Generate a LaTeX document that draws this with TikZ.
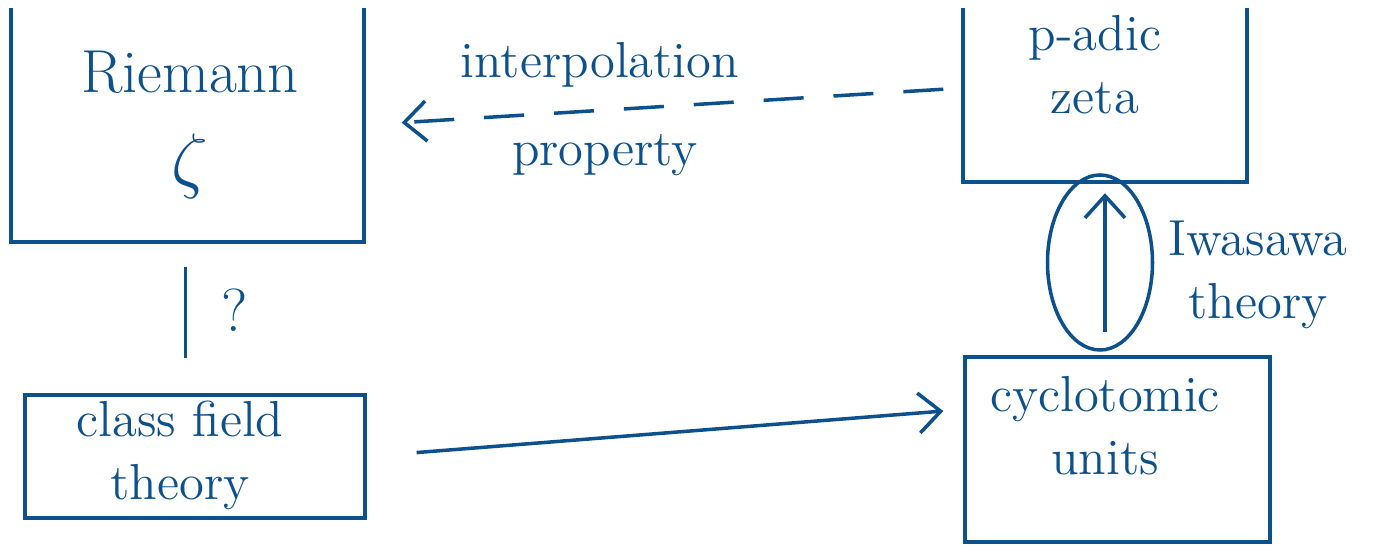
\documentclass[tikz,border=0pt]{standalone}
\usepackage{tikz}
\usetikzlibrary{arrows.meta,shapes.geometric}
\definecolor{ink}{RGB}{12,80,140}

\begin{document}
\begin{tikzpicture}[line width=1pt,draw=ink,text=ink,>={Straight Barb[length=2.2mm,width=4mm]},
   box/.style={draw=ink,inner sep=0pt},
   open/.style={inner sep=0pt},
   lbl/.style={align=center,font=\Large}]
  \useasboundingbox (0,0) rectangle (13.76,5.46);
  % boxes (the two top ones run off the page)
  \node[open,minimum width=3.49cm,minimum height=2.3cm] (riem) at (1.875,4.21) {};
  \node[open,minimum width=2.8cm,minimum height=1.7cm] (padic) at (11.05,4.51) {};
  \node[box,minimum width=3.4cm,minimum height=1.23cm] (cft) at (1.95,0.895) {};
  \node[box,minimum width=3.05cm,minimum height=1.85cm] (cyc) at (11.175,0.965) {};
  \draw[ink] (riem.north west) -- (riem.south west) -- (riem.south east) -- (riem.north east);
  \draw[ink] (padic.north west) -- (padic.south west) -- (padic.south east) -- (padic.north east);
  % texts
  \node[lbl,font=\LARGE] (riemt) at (1.9,4.21) {Riemann\\[4pt]{\huge$\zeta$}};
  \node[lbl] (padict) at (10.95,4.81) {p-adic\\zeta};
  \node[lbl] (cftt) at (1.8,0.91) {class field\\theory};
  \node[lbl] (cyct) at (11.05,1.2) {cyclotomic\\units};
  % arrows
  \draw[->,dash pattern=on 4mm off 3mm,shorten <=2mm,shorten >=3.8mm]
    ([yshift=0.7mm]padic.west) -- (riem.east);
  \node[lbl] (interp) at (6.0,4.81) {interpolation};
  \node[lbl] (prop) at (6.05,3.91) {property};
  \draw[shorten <=2.5mm,shorten >=3.5mm] ([xshift=-0.2mm]riem.south) -- ([xshift=-0.2mm]riem.south |- cft.north);
  \node[lbl,font=\LARGE] (qm) at (2.35,2.36) {?};
  \draw[->,shorten <=5mm,shorten >=2mm] (cft.east) -- ([yshift=4mm]cyc.west);
  \node[draw=ink,ellipse,minimum width=1.05cm,minimum height=1.75cm,inner sep=0pt] (iwell) at (11.0,2.835) {};
  \draw[->,shorten <=2mm,shorten >=2mm] ([xshift=0.5mm]iwell.south) -- ([xshift=0.5mm]iwell.north);
  \node[lbl,anchor=west] (iwt) at (11.55,2.71) {Iwasawa\\theory};
\end{tikzpicture}
\end{document}
